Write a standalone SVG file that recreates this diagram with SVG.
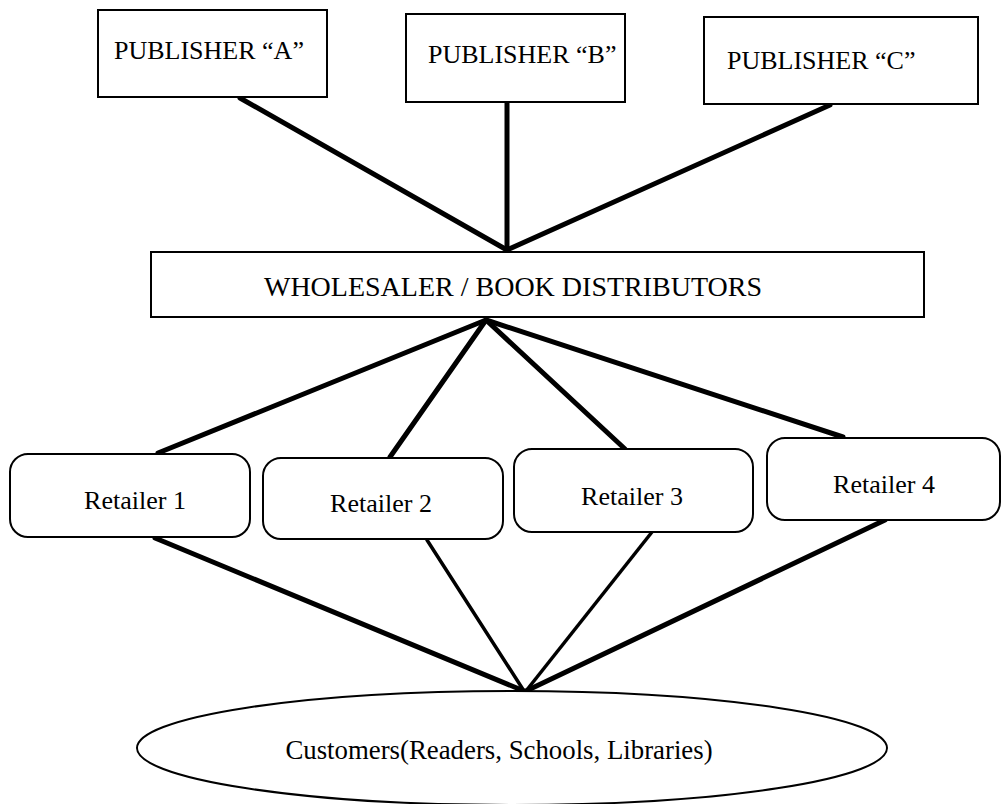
<svg xmlns="http://www.w3.org/2000/svg" width="1001" height="804" viewBox="0 0 1001 804">
<style>
.box{fill:#fff;stroke:#000;stroke-width:2}
.t{font-family:"Liberation Serif","Times New Roman",serif;font-size:26px;fill:#000}
.c{stroke:#000;stroke-width:5;stroke-linecap:round;fill:none}
</style>
<rect width="1001" height="804" fill="#fff"/>
<g id="connectors">
<line class="c" x1="240" y1="98" x2="507" y2="250"/>
<line class="c" x1="507" y1="102" x2="507" y2="250"/>
<line class="c" x1="830" y1="105" x2="507" y2="250"/>
<line class="c" x1="486" y1="320" x2="158" y2="453"/>
<line class="c" x1="486" y1="320" x2="390" y2="457"/>
<line class="c" x1="486" y1="320" x2="625" y2="449"/>
<line class="c" x1="486" y1="320" x2="843" y2="437"/>
<line class="c" x1="155" y1="538" x2="524" y2="691"/>
<line class="c" x1="427" y1="540" x2="524" y2="691" style="stroke-width:3.5"/>
<line class="c" x1="652" y1="532" x2="526" y2="691" style="stroke-width:3.5"/>
<line class="c" x1="885" y1="520" x2="526" y2="691"/>
</g>
<g id="publisherA"><rect class="box" x="98" y="10" width="229" height="87"/><text class="t" x="114" y="59">PUBLISHER “A”</text></g>
<g id="publisherB"><rect class="box" x="406" y="14" width="219" height="88"/><text class="t" x="428" y="63">PUBLISHER “B”</text></g>
<g id="publisherC"><rect class="box" x="704" y="17" width="274" height="87"/><text class="t" x="727" y="69">PUBLISHER “C”</text></g>
<g id="wholesaler"><rect class="box" x="151" y="252" width="773" height="65"/><text class="t" x="513" y="296" text-anchor="middle" style="font-size:28px">WHOLESALER / BOOK DISTRIBUTORS</text></g>
<g id="retailer1"><rect class="box" x="10" y="454" width="240" height="83" rx="18"/><text class="t" x="135" y="509" text-anchor="middle">Retailer 1</text></g>
<g id="retailer2"><rect class="box" x="263" y="458" width="240" height="81" rx="18"/><text class="t" x="381" y="512" text-anchor="middle">Retailer 2</text></g>
<g id="retailer3"><rect class="box" x="514" y="449" width="239" height="83" rx="18"/><text class="t" x="632" y="505" text-anchor="middle">Retailer 3</text></g>
<g id="retailer4"><rect class="box" x="767" y="438" width="233" height="82" rx="18"/><text class="t" x="884" y="493" text-anchor="middle">Retailer 4</text></g>
<g id="customers"><ellipse class="box" cx="512" cy="748" rx="375" ry="57"/><text class="t" x="499" y="759" text-anchor="middle" style="font-size:26.8px">Customers(Readers, Schools, Libraries)</text></g>
</svg>
